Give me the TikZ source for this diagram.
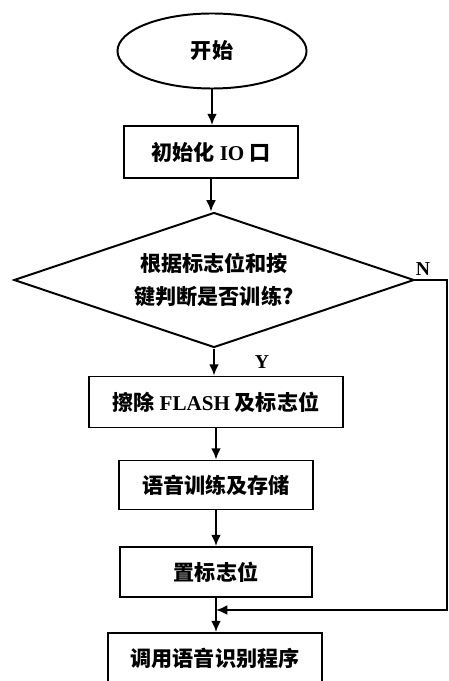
\documentclass[tikz,border=0pt]{standalone}
\usepackage{fontspec}
\setmainfont{Liberation Serif}
\newfontfamily\cjk{Noto Sans CJK SC}
\newcommand{\en}[1]{{\rmfamily\bfseries #1}}
\usetikzlibrary{shapes.geometric,arrows.meta}

\begin{document}
\begin{tikzpicture}[x=0.025cm,y=-0.025cm,line width=1.4pt,
  box/.style={draw,rectangle,inner sep=0pt,font=\cjk\bfseries\fontsize{15}{23}\selectfont},
  flow/.style={-{Latex[length=8pt,width=7pt]}},
  mark label/.style={font=\bfseries\fontsize{14}{16}\selectfont}]

\useasboundingbox (0,0) rectangle (448,681);

\node[box,ellipse,minimum width=4.725cm,minimum height=1.875cm] (start) at (212,51) {开始};
\node[box,minimum width=4.35cm,minimum height=1.3cm] (init) at (211,152) {初始化 \en{IO} 口};
\node[box,diamond,align=center,minimum width=10cm,minimum height=3.375cm,aspect=2.96] (check) at (214,280) {根据标志位和按\\键判断是否训练?};
\node[box,minimum width=6.325cm,minimum height=1.275cm] (erase) at (216,402) {擦除 \en{FLASH} 及标志位};
\node[box,minimum width=4.825cm,minimum height=1.225cm] (train) at (216,485) {语音训练及存储};
\node[box,minimum width=4.8cm,minimum height=1.25cm] (setflag) at (216,572) {置标志位};
\node[box,minimum width=5.35cm,minimum height=1.25cm] (call) at (215,658) {调用语音识别程序};

\coordinate (join) at (216,610);

\foreach \a/\b in {start/init,init/check,check/erase,erase/train,train/setflag,setflag/call}
{
  \draw[flow] (\a) -- (\a |- \b.north);
}

\draw[flow] (check.east) -- ++(32,0) |- (join);

\node[mark label] (no) at (423,269) {N};
\node[mark label] (yes) at (262,362) {Y};

\end{tikzpicture}
\end{document}
